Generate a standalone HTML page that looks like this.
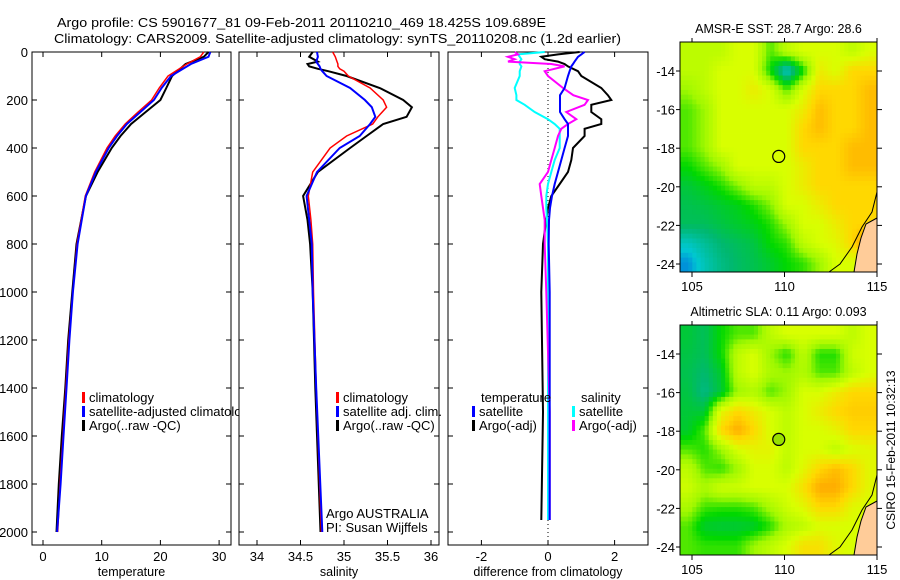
<!DOCTYPE html>
<html><head><meta charset="utf-8"><style>
html,body{margin:0;padding:0;background:#fff;}
svg{display:block;font-family:"Liberation Sans",sans-serif;}
</style></head><body>
<svg id="fig" width="900" height="580" viewBox="0 0 900 580" xmlns="http://www.w3.org/2000/svg">
<text x="57" y="27" font-size="13" textLength="489" lengthAdjust="spacingAndGlyphs">Argo profile: CS 5901677_81 09-Feb-2011 20110210_469 18.425S 109.689E</text>
<text x="54" y="43" font-size="13" textLength="567" lengthAdjust="spacingAndGlyphs">Climatology: CARS2009. Satellite-adjusted climatology: synTS_20110208.nc (1.2d earlier)</text>
<g id="g"></g>
<text transform="translate(895,450) rotate(-90)" text-anchor="middle" font-size="12">CSIRO 15-Feb-2011 10:32:13</text>
</svg>
<script>
// ---------- data ----------
const tDepth=[0,20,50,100,150,200,250,300,350,400,500,600,800,1000,1200,1400,1600,1800,2000];
const tClim=[27.4,26.8,24.5,21.3,19.8,18.5,16.2,14,12.3,10.9,8.8,7.2,5.8,5.1,4.4,3.9,3.4,2.9,2.5];
const tSat=[28.5,28.2,25.2,21.8,20.2,18.9,16.6,14.3,12.6,11.2,9.0,7.3,5.9,5.1,4.5,4.0,3.5,3.0,2.4];
const tArgo=[28.2,27.4,24.3,22.0,21.0,20.0,17.5,15.0,13.2,11.7,9.3,7.3,5.7,5.0,4.3,3.8,3.2,2.7,2.3];
const sDepth=[0,20,40,50,60,70,80,100,150,200,230,270,300,350,400,500,600,700,800,1000,1400,2000];
const sClim=[34.87,34.9,34.92,34.93,34.93,34.95,35.0,35.05,35.3,35.45,35.49,35.39,35.33,35.03,34.84,34.64,34.59,34.62,34.64,34.65,34.68,34.74];
const sSat=[34.69,34.7,34.68,34.7,34.72,34.73,34.75,34.8,35.07,35.24,35.32,35.36,35.3,35.18,34.95,34.69,34.57,34.6,34.63,34.64,34.68,34.75];
const sArgo=[34.64,34.6,34.7,34.58,34.6,34.7,34.82,35.03,35.41,35.68,35.78,35.72,35.45,35.26,35.07,34.7,34.53,34.58,34.61,34.64,34.67,34.73];
const dDepth=[0,10,20,30,40,50,60,80,100,150,180,200,220,250,280,300,320,350,400,450,500,550,600,650,700,800,1000,1500,1950];
const dTsat=[1.1,1.0,0.9,0.85,0.8,0.75,0.7,0.65,0.6,0.5,0.36,0.36,0.36,0.36,0.5,0.6,0.6,0.6,0.5,0.4,0.3,0.2,0.12,0.06,0.03,0.02,0.05,0.05,0.05];
const dTargo=[0.95,0.3,-0.2,-0.1,0.3,0.5,0.6,0.9,1.0,1.6,1.8,1.9,1.3,1.3,1.6,1.6,1.1,1.1,0.75,0.7,0.6,0.35,0.1,0.0,-0.05,-0.15,-0.2,-0.15,-0.2];
const dSsat=[-0.1,-0.9,-0.85,-0.8,-0.85,-0.85,-0.8,-0.85,-0.85,-1.0,-0.95,-0.95,-0.7,-0.4,0.0,0.2,0.35,0.35,0.35,0.2,0.1,0.0,-0.05,-0.05,-0.03,0.0,0.0,0.0,0.0];
const dSargo=[-1.0,-0.9,-1.2,-1.0,-1.2,0.1,0.5,-0.1,0.0,0.45,0.76,1.2,1.1,0.55,0.85,0.6,0.4,0.3,0.2,0.1,0.0,-0.25,-0.2,-0.15,-0.1,-0.1,-0.05,0.05,0.05];
const depthTicks=[0,200,400,600,800,1000,1200,1400,1600,1800,2000];
const tTicks=[0,10,20,30];
const sTicks=[34,34.5,35,35.5,36];
const sTickLabels=["34","34.5","35","35.5","36"];
const dTicks=[-2,0,2];
const lonTicks=[105,110,115];
const latTicks=[-14,-16,-18,-20,-22,-24];
const sstGrid=[
[5.5,5.5,5.5,6,6,4.5,5.5,6,6,6,5.5,6],
[5.5,5.5,6,6,6,4,2,4,6.5,6,7,7],
[5,5.5,6,6,6.5,6,4.5,6,7,7,7,7.5],
[4.5,5,6,6,6,6,6,6.5,7.5,7,7,7.5],
[4.5,5,6,6,6,6,6,7,7.5,7,7,7.5],
[4.5,5,6,6,6,6,6,7,7,7,7.5,7.5],
[4,4.5,5,6,6,6,6,6.5,7,7,7.5,7.5],
[3.5,3.8,4.2,4.8,5.5,5.5,6,6.5,7,7,7,7],
[3.3,3.4,3.6,3.8,4.2,4.8,6,6,6.5,7,7,7],
[3.2,3.2,3.4,3.6,3.8,4.2,5,6,6,6.5,7,7],
[2.2,2.6,3,3.2,3.4,4,4.3,5.5,6,6.2,7,8.5],
[1.6,2.3,2.8,3.1,3.3,3.6,4,4.3,5,6,6,6]];
const slaGrid=[
[3.5,3.2,4,4.5,4.5,5.5,6,6,6,6,5.5,6],
[3.4,3.2,4,5.5,6,5,4.2,5.5,4.2,4.2,5.8,6],
[3.3,3,3.6,5.5,6,5.2,5,5.3,4.5,4.5,5.5,6],
[3.4,2.8,3.5,5,5.3,4.5,5,6,6,6.5,7,7],
[3.5,3.5,6.2,7,6.5,6,5.5,6,6.5,7,7.2,7.2],
[3.6,4.5,7,7.8,7,6,5.5,6,6,6.3,7,7],
[4.5,4.2,5,6,6.3,6.3,5.6,6,6,5.5,6,6.2],
[5.5,4.5,4.3,5,6,6,5.5,6.2,7,7.5,7,6.2],
[5.8,5.2,5.8,5.8,6,6,6,6.8,7.8,7.8,7,6.2],
[5.2,4.4,4.3,4.3,4.5,5.2,5.8,6.2,7,7,6.2,6],
[4.5,3.6,3.5,3.5,3.6,4.2,5.2,5.5,6,6,6,6],
[4.5,4.3,4.3,4.3,5,5.5,6,6.8,6.8,6.2,6,6]];
const argoLon=109.689, argoLat=-18.425;

// ---------- helpers ----------
const NS="http://www.w3.org/2000/svg";
const G=document.getElementById('g');
function mk(tag,attrs,parent){const e=document.createElementNS(NS,tag);for(const k in attrs)e.setAttribute(k,attrs[k]);(parent||G).appendChild(e);return e;}
const yD=d=>52+0.24*d;
function panel(x0,x1,xf,xTicks,xLabels,title,name,leftLabels){
  const r=mk('rect',{x:x0,y:52,width:x1-x0,height:493,fill:'#fff',stroke:'#000','stroke-width':1});
  
  
  depthTicks.forEach(d=>{
    const y=yD(d);
    mk('line',{x1:x0,x2:x0+5,y1:y,y2:y,stroke:'#000'});
    mk('line',{x1:x1-5,x2:x1,y1:y,y2:y,stroke:'#000'});
    if(leftLabels){const t=mk('text',{x:x0-4,y:y+5,'text-anchor':'end','font-size':13});t.textContent=d;
      
      }
  });
  xTicks.forEach((v,i)=>{
    const x=xf(v);
    mk('line',{x1:x,x2:x,y1:545,y2:540,stroke:'#000'});
    mk('line',{x1:x,x2:x,y1:52,y2:57,stroke:'#000'});
    const t=mk('text',{x:x,y:561,'text-anchor':'middle','font-size':13});t.textContent=xLabels[i];
    
    
  });
  const tt=mk('text',{x:(x0+x1)/2,y:576,'text-anchor':'middle','font-size':12.5});tt.textContent=title;
  
  
}
function line(depths,vals,xf,color,w,name){
  const pts=depths.map((d,i)=>xf(vals[i]).toFixed(1)+','+yD(d).toFixed(1)).join(' ');
  const p=mk('polyline',{points:pts,fill:'none',stroke:color,'stroke-width':w});
  
  
}
function legend(x,y,color,label,name){
  mk('rect',{x:x,y:y-10,width:3,height:11,fill:color});
  const t=mk('text',{x:x+7,y:y,'font-size':13});t.textContent=label;
  
  
}

// ---------- panel 1 temperature ----------
const xT=v=>43+5.87*v;
panel(32,231,xT,tTicks,tTicks.map(String),'temperature','temperature-panel',true);
line(tDepth,tArgo,xT,'#000',2,'temperature-argo-line');
line(tDepth,tClim,xT,'#f00',1.5,'temperature-climatology-line');
line(tDepth,tSat,xT,'#00f',2,'temperature-satellite-line');
legend(82,402,'#f00','climatology','legend-climatology');
legend(82,416,'#00f','satellite-adjusted climatology','legend-satellite-adjusted');
legend(82,430,'#000','Argo(..raw -QC)','legend-argo-raw');

// ---------- panel 2 salinity ----------
const xS=v=>257+87*(v-34);
panel(239,439,xS,sTicks,sTickLabels,'salinity','salinity-panel',false);
line(sDepth,sArgo,xS,'#000',2,'salinity-argo-line');
line(sDepth,sClim,xS,'#f00',1.5,'salinity-climatology-line');
line(sDepth,sSat,xS,'#00f',2,'salinity-satellite-line');
legend(336,402,'#f00','climatology','legend-sal-climatology');
legend(336,416,'#00f','satellite adj. clim.','legend-sal-satellite');
legend(336,430,'#000','Argo(..raw -QC)','legend-sal-argo');
let t1=mk('text',{x:326,y:518,'font-size':13});t1.textContent='Argo AUSTRALIA';


let t2=mk('text',{x:326,y:532,'font-size':13});t2.textContent='PI: Susan Wijffels';



// ---------- panel 3 difference ----------
const xDf=v=>548+33.3*v;
panel(448,648,xDf,dTicks,dTicks.map(String),'difference from climatology','difference-panel',false);
mk('line',{x1:xDf(0),x2:xDf(0),y1:52,y2:545,stroke:'#000','stroke-dasharray':'1,3'});
line(dDepth,dTargo,xDf,'#000',2,'diff-temp-argo-line');
line(dDepth,dSsat,xDf,'#0ff',2,'diff-sal-satellite-line');
line(dDepth,dSargo,xDf,'#f0f',2,'diff-sal-argo-line');
line(dDepth,dTsat,xDf,'#00f',2,'diff-temp-satellite-line');
let lt=mk('text',{x:481,y:402,'font-size':13});lt.textContent='temperature';


let ls=mk('text',{x:581,y:402,'font-size':13});ls.textContent='salinity';


legend(472,416,'#00f','satellite','legend-diff-temp-satellite');
legend(472,430,'#000','Argo(-adj)','legend-diff-temp-argo');
legend(572,416,'#0ff','satellite','legend-diff-sal-satellite');
legend(572,430,'#f0f','Argo(-adj)','legend-diff-sal-argo');

// ---------- maps ----------
const cstops=[[0,48,200],[0,64,224],[0,200,210],[0,184,112],[0,216,0],[160,248,0],[216,255,0],[255,216,0],[255,160,0],[176,0,0]];
function cmap(v){v=Math.max(0,Math.min(9,v));const i=Math.min(8,Math.floor(v)),f=v-i;
  const a=cstops[i],b=cstops[i+1];return 'rgb('+a.map((c,k)=>Math.round(c+(b[k]-c)*f)).join(',')+')';}
function sample(grid,r,c){const nr=grid.length,nc=grid[0].length;
  r=Math.max(0,Math.min(nr-1,r));c=Math.max(0,Math.min(nc-1,c));
  const r0=Math.floor(r),c0=Math.floor(c),r1=Math.min(nr-1,r0+1),c1=Math.min(nc-1,c0+1),fr=r-r0,fc=c-c0;
  return grid[r0][c0]*(1-fr)*(1-fc)+grid[r0][c1]*(1-fr)*fc+grid[r1][c0]*fr*(1-fc)+grid[r1][c1]*fr*fc;}
function map(top,grid,title,name){
  const x0=680,x1=877,bottom=top+230;
  const lonF=lon=>692+18.5*(lon-105);
  const latF=lat=>top+29-19.3*(lat+14);
  const nr=grid.length,nc=grid[0].length,sub=4;
  const cw=(x1-x0)/(nc*sub),ch=(bottom-top)/(nr*sub);
  for(let r=0;r<nr*sub;r++)for(let c=0;c<nc*sub;c++){
    const v=sample(grid,(r+0.5)/sub-0.5,(c+0.5)/sub-0.5);
    const cell=mk('rect',{x:(x0+c*cw).toFixed(2),y:(top+r*ch).toFixed(2),width:(cw+0.4).toFixed(2),height:(ch+0.4).toFixed(2),fill:cmap(v)});
    
    
  }
  const land=mk('path',{d:`M877,${top+176} L866,${top+182} L861,${top+196} L857,${top+212} L854,${top+230} L877,${top+230} Z`,fill:'#ffcc99',stroke:'#000','stroke-width':1});
  
  
  mk('path',{d:`M877,${top+150} L872,${top+170} L862,${top+185} L852,${top+205} L840,${top+222} L829,${top+230}`,fill:'none',stroke:'#000','stroke-width':1});
  mk('rect',{x:x0,y:top,width:x1-x0,height:230,fill:'none',stroke:'#000'});
  lonTicks.forEach(l=>{const x=lonF(l);
    mk('line',{x1:x,x2:x,y1:bottom,y2:bottom+5,stroke:'#000'});
    mk('line',{x1:x,x2:x,y1:top,y2:top-4,stroke:'#000'});
    const t=mk('text',{x:x,y:bottom+19,'text-anchor':'middle','font-size':13});t.textContent=l;
    
    });
  latTicks.forEach(l=>{const y=latF(l);
    mk('line',{x1:x0,x2:x0-4,y1:y,y2:y,stroke:'#000'});
    mk('line',{x1:x1,x2:x1+5,y1:y,y2:y,stroke:'#000'});
    const t=mk('text',{x:x0-5,y:y+5,'text-anchor':'end','font-size':13});t.textContent=l;
    
    });
  const tt=mk('text',{x:(x0+x1)/2,y:top-9,'text-anchor':'middle','font-size':12.5});tt.textContent=title;
  
  
  return {lonF,latF};
}
const m1=map(42,sstGrid,'AMSR-E SST: 28.7 Argo: 28.6','sst-map');
const c1=mk('circle',{cx:m1.lonF(argoLon),cy:m1.latF(argoLat),r:6,fill:'none',stroke:'#000','stroke-width':1.2});


const m2=map(325,slaGrid,'Altimetric SLA: 0.11 Argo: 0.093','sla-map');
const c2=mk('circle',{cx:m2.lonF(argoLon),cy:m2.latF(argoLat),r:6,fill:'#98e000',stroke:'#000','stroke-width':1.2});


</script>
</body></html>
